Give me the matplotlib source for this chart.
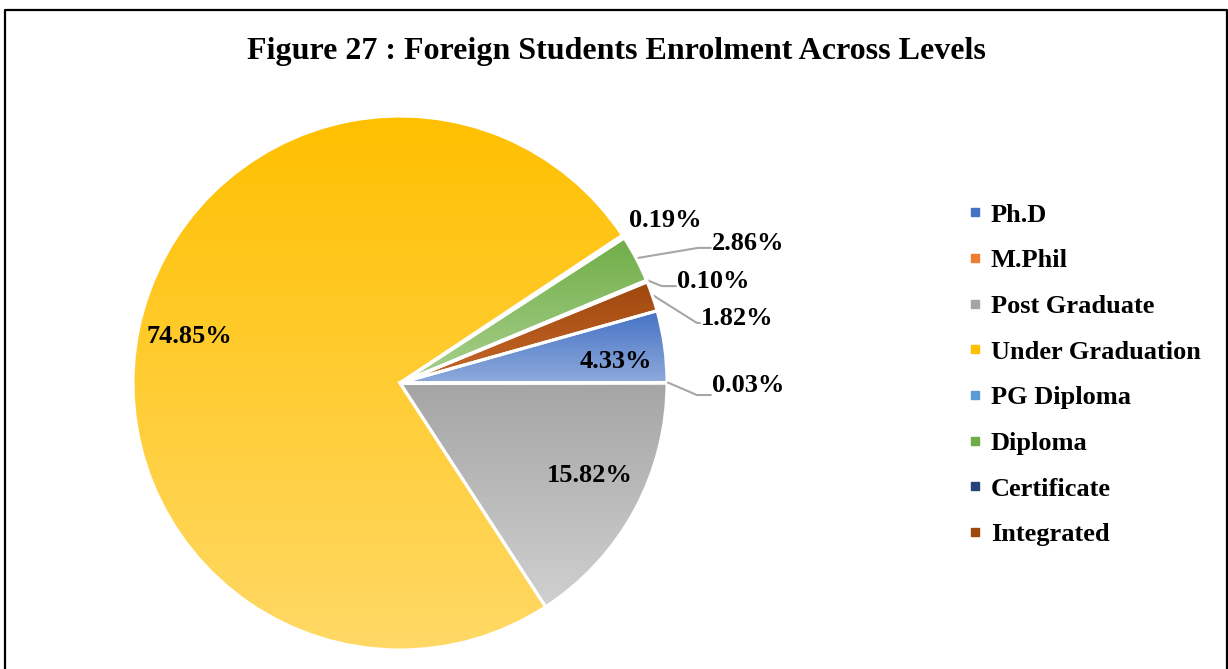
import numpy as np
import matplotlib
matplotlib.use("Agg")
import matplotlib.pyplot as plt
from matplotlib.colors import to_rgb
from matplotlib.patches import Wedge
from matplotlib.lines import Line2D

levels = ["Ph.D", "M.Phil", "Post Graduate", "Under Graduation",
          "PG Diploma", "Diploma", "Certificate", "Integrated"]
shares = [4.33, 0.03, 15.82, 74.85, 0.19, 2.86, 0.10, 1.82]
pct_labels = ["4.33%", "0.03%", "15.82%", "74.85%", "0.19%", "2.86%", "0.10%", "1.82%"]

top_colors = ["#4472C4", "#ED7D31", "#A5A5A5", "#FFC000",
              "#5B9BD5", "#70AD47", "#264478", "#9E480E"]
bottom_colors = ["#8FAADC", "#F4B183", "#D0D0D0", "#FFD966",
                 "#9DC3E6", "#A9D18E", "#4A6DA8", "#C8672A"]

# label placement in pie-radius units: (kind, text x, text y, elbow x, leader y)
label_place = [
    ("in", 0.81, 0.079, None, None),
    ("out", 1.303, -0.011, 1.112, -0.045),
    ("in", 0.712, -0.345, None, None),
    ("in", -0.787, 0.176, None, None),
    ("free", 0.993, 0.607, None, None),
    ("out", 1.303, 0.524, 1.116, 0.506),
    ("out", 1.172, 0.382, 0.981, 0.363),
    ("out", 1.262, 0.243, 1.112, 0.225),
]

serif = ["Liberation Serif", "DejaVu Serif"]
plt.rcParams["font.family"] = serif

fig = plt.figure(figsize=(12.28, 6.69), dpi=100)

# outer frame (bottom edge is cut off in the original)
fig.add_artist(Line2D([5 / 1228, 5 / 1228, 1226.5 / 1228, 1226.5 / 1228],
                      [0, 1 - 9.5 / 669, 1 - 9.5 / 669, 0],
                      transform=fig.transFigure, color="black", lw=1.6))

fig.text(616 / 1228, 1 - 51 / 669, "Figure 27 : Foreign Students Enrolment Across Levels",
         ha="center", va="center", fontsize=23, fontweight="bold")

R = 267
ax = fig.add_axes([(400 - R) / 1228, (669 - 383 - R) / 669, 2 * R / 1228, 2 * R / 669])
ax.set_xlim(-1, 1)
ax.set_ylim(-1, 1)
ax.axis("off")

startangle = (shares[0] + shares[1]) * 3.6
wedges, _ = ax.pie(shares, startangle=startangle, counterclock=False, radius=1,
                   colors=top_colors, wedgeprops=dict(linewidth=0))

for i, w in enumerate(wedges):
    bb = w.get_path().get_extents(w.get_transform())
    inv = ax.transData.inverted()
    (x0, y0), (x1, y1) = inv.transform([[bb.x0, bb.y0], [bb.x1, bb.y1]])
    c0 = np.array(to_rgb(top_colors[i]))
    c1 = np.array(to_rgb(bottom_colors[i]))
    t = np.linspace(0, 1, 256)[:, None]
    grad = (c0 * (1 - t) + c1 * t)[:, None, :]
    im = ax.imshow(grad, extent=[x0, x1, y0, y1], origin="upper", aspect="auto",
                   zorder=2, interpolation="bilinear")
    im.set_clip_path(w)
    ax.add_patch(Wedge((0, 0), 1, w.theta1, w.theta2, facecolor="none",
                       edgecolor="white", linewidth=2.2, zorder=3))

ax.set_xlim(-1, 1)
ax.set_ylim(-1, 1)

for i, w in enumerate(wedges):
    kind, tx, ty, ex, ly = label_place[i]
    if kind == "out":
        mid = np.deg2rad((w.theta1 + w.theta2) / 2)
        sx, sy = np.cos(mid) * 1.005, np.sin(mid) * 1.005
        lx = tx - 0.14
        ax.plot([sx, ex, lx], [sy, ly, ly], color="#A6A6A6", lw=1.5,
                zorder=1, clip_on=False)
    ax.text(tx, ty, pct_labels[i], ha="center", va="center", fontsize=19,
            fontweight="bold", zorder=4, clip_on=False)

handles = [Line2D([], [], marker="s", linestyle="none", markersize=6,
                  markerfacecolor=c, markeredgecolor=c) for c in top_colors]
fig.legend(handles, levels, loc="upper left", bbox_to_anchor=(954 / 1228, 1 - 190 / 669),
           frameon=False, prop=dict(family=serif, weight="bold", size=19),
           labelspacing=0.84, handlelength=0.6, handletextpad=0.3, borderpad=0)

fig.savefig("out.png", dpi=100)
